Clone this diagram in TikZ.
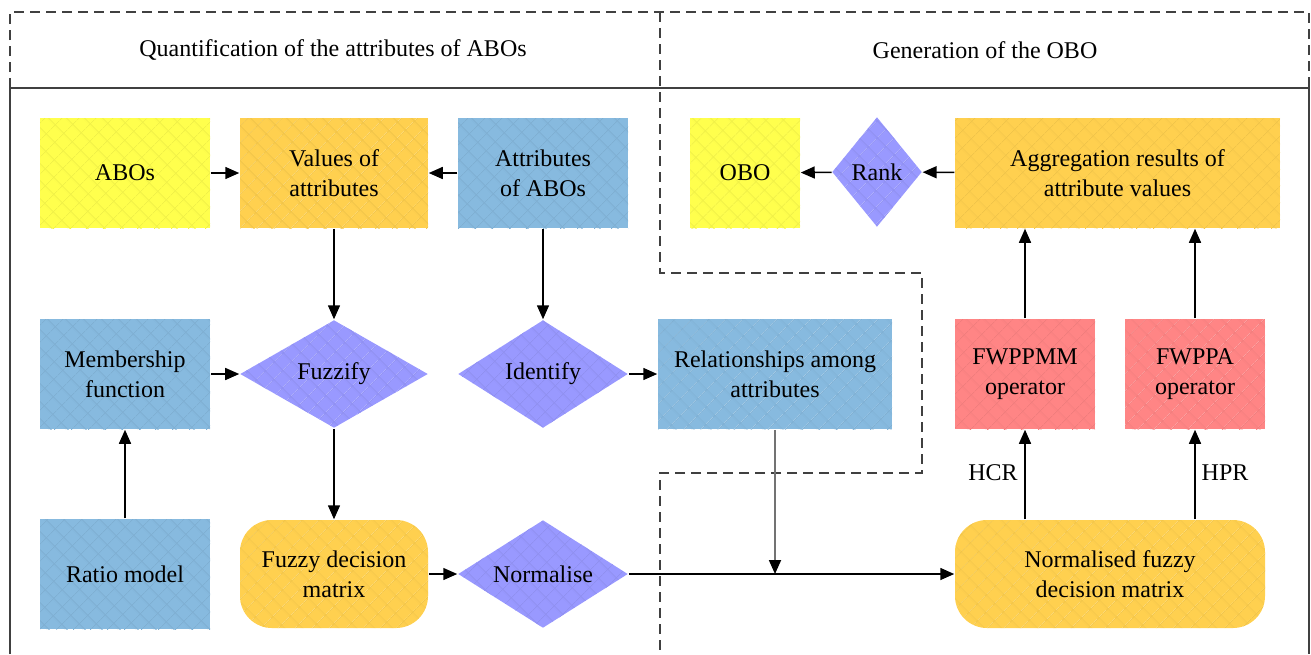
\documentclass[tikz,border=0pt]{standalone}
\usepackage{fontspec}
\setmainfont{Liberation Serif}
\usetikzlibrary{shapes.geometric,arrows.meta,patterns.meta}

\definecolor{boxyellow}{HTML}{FFFF4D}
\definecolor{boxorange}{HTML}{FFD04F}
\definecolor{boxblue}{HTML}{87BADF}
\definecolor{boxpurple}{HTML}{9999FF}
\definecolor{boxred}{HTML}{FF8585}

\begin{document}
\begin{tikzpicture}[x=0.5pt,y=-0.5pt,
                    font=\fontsize{12}{15}\selectfont,
                    >={Triangle[length=7pt,width=6pt]},
                    line width=0.75pt,
                    filled/.style={fill=#1,postaction={pattern={Hatch[angle=45,distance=6.5pt,line width=0.4pt]},pattern color=#1!94!black}},
                    main node/.style={rectangle,filled=#1,align=center,inner sep=2pt,minimum width=85pt,minimum height=55pt},
                    decision/.style={diamond,filled=boxpurple,align=center,inner sep=0pt,shape aspect=1.6,minimum width=85pt,minimum height=54pt},
                    terminal/.style={main node=boxorange,rounded corners=16pt,minimum width=94pt,minimum height=54pt},
                    frame/.style={draw=black!75,line width=0.6pt},
                    part/.style={frame,dash pattern=on 5pt off 3pt}
                   ]
  \useasboundingbox (0,0) rectangle (1311,654);

  % frame of the two parts
  \draw[part] (10,88) -- (10,12) -- (1309,12) -- (1309,88);
  \draw[frame] (10,654) -- (10,88) -- (1309,88) -- (1309,654);
  \draw[part] (660,12) -- (660,273) -- (922,273) -- (922,473) -- (660,473) -- (660,654);
  \node (title1) at (333,50) {Quantification of the attributes of ABOs};
  \node (title2) at (985,50) {Generation of the OBO};

  % first row
  \node[main node=boxyellow] (abos) at (125,173) {ABOs};
  \node[main node=boxorange,minimum width=94pt] (values) at (334,173) {Values of\\attributes};
  \node[main node=boxblue] (attributes) at (543,173) {Attributes\\of ABOs};
  \node[main node=boxyellow,minimum width=55pt] (obo) at (745,173) {OBO};
  \node[decision,minimum width=45pt,minimum height=55pt] (rank) at (877,172) {Rank};
  \node[main node=boxorange,minimum width=162.5pt] (aggregation) at (1117.5,173) {Aggregation results of\\attribute values};

  % second row
  \node[main node=boxblue] (membership) at (125,374) {Membership\\function};
  \node[decision,minimum width=94pt] (fuzzify) at (334,374) {Fuzzify};
  \node[decision] (identify) at (543,374) {Identify};
  \node[main node=boxblue,minimum width=117pt] (relations) at (775,374) {Relationships among\\attributes};
  \node[main node=boxred,minimum width=70pt] (fwppmm) at (1025,374) {FWPPMM\\operator};
  \node[main node=boxred,minimum width=70pt] (fwppa) at (1195,374) {FWPPA\\operator};

  % third row
  \node[main node=boxblue] (ratio) at (125,574) {Ratio model};
  \node[terminal] (fuzzy) at (334,574) {Fuzzy decision\\matrix};
  \node[decision] (normalise) at (543,574) {Normalise};
  \node[terminal,minimum width=155pt] (normalised) at (1110,574) {Normalised fuzzy\\decision matrix};
  \coordinate (junction) at (775,574);

  \node (hcr) at (993,473) {HCR};
  \node (hpr) at (1225,473) {HPR};

  \path[->]%
   (abos) edge (values)
   (attributes) edge (values)
   (values) edge (fuzzify)
   (attributes) edge (identify)
   (membership) edge (fuzzify)
   (identify) edge (relations)
   (ratio) edge (membership)
   (fuzzify) edge (fuzzy)
   (fuzzy) edge (normalise)
   (normalise) edge (normalised)
   (relations) edge[draw=black!55,line width=0.9pt,-{Triangle[length=7pt,width=6pt,color=black]}] (junction)
   (normalised.north -| fwppmm) edge (fwppmm)
   (normalised.north -| fwppa) edge (fwppa)
   (fwppmm) edge (fwppmm |- aggregation.south)
   (fwppa) edge (fwppa |- aggregation.south)
   (aggregation) edge (rank)
   (rank) edge (obo);
\end{tikzpicture}
\end{document}
